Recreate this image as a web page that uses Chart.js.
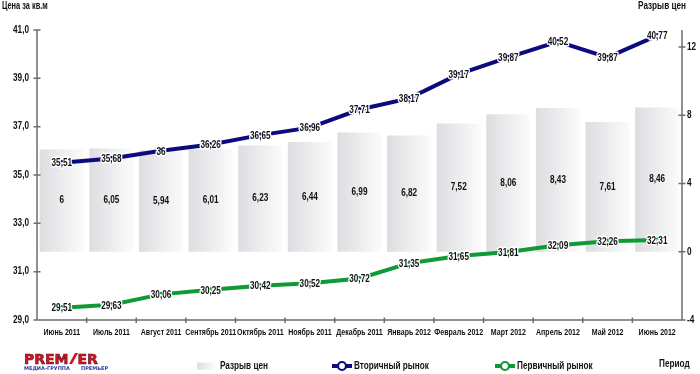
<!DOCTYPE html>
<html><head><meta charset="utf-8">
<script src="https://cdn.jsdelivr.net/npm/chart.js@4/dist/chart.umd.min.js"></script>
<style>html,body{margin:0;padding:0;background:#fff;}#wrap{position:relative;width:700px;height:374px;}</style>
</head><body><div id="wrap"><canvas id="c" width="700" height="374"></canvas></div>
<script>
const categories = ['Июнь 2011','Июль 2011','Август 2011','Сентябрь 2011','Октябрь 2011','Ноябрь 2011','Декабрь 2011','Январь 2012','Февраль 2012','Март 2012','Апрель 2012','Май 2012','Июнь 2012'];
const secondaryMarket = [35.51,35.68,36,36.26,36.65,36.96,37.71,38.17,39.17,39.87,40.52,39.87,40.77];
const primaryMarket = [29.51,29.63,30.06,30.25,30.42,30.52,30.72,31.35,31.65,31.81,32.09,32.26,32.31];
const priceGap = [6,6.05,5.94,6.01,6.23,6.44,6.99,6.82,7.52,8.06,8.43,7.61,8.46];
const leftTicks = [29,31,33,35,37,39,41];
const rightTicks = [-4,0,4,8,12];

const FAM = '"Liberation Sans",Arial,sans-serif';
const NAVY = '#0b0b80';
const GREEN = '#0f9a35';
const AXIS = '#6e6e6e';
const fmt = v => String(v).replace('.', ',');

function txt(ctx, s, x, y, o) {
  o = Object.assign({ size: 10, align: 'left', sx: 0.82, color: '#111', halo: false, font: FAM }, o || {});
  ctx.save();
  ctx.font = 'bold ' + o.size + 'px ' + o.font;
  ctx.textBaseline = 'middle';
  ctx.textAlign = o.align;
  ctx.translate(x, y);
  ctx.scale(o.sx, 1);
  if (o.halo) { ctx.lineWidth = 3; ctx.strokeStyle = '#fff'; ctx.lineJoin = 'round'; ctx.strokeText(s, 0, 0); }
  ctx.fillStyle = o.color;
  ctx.fillText(s, 0, 0);
  ctx.restore();
}

function barGradient(ctx, x0, x1) {
  if (!isFinite(x0) || !isFinite(x1) || x1 <= x0) return '#e8e8ea';
  const g = ctx.createLinearGradient(x0, 0, x1, 0);
  g.addColorStop(0, '#dcdde0');
  g.addColorStop(1, '#fbfbfb');
  return g;
}

const decor = {
  id: 'decor',
  afterDatasetsDraw(chart) {
    const ctx = chart.ctx;
    const bm = chart.getDatasetMeta(2);
    bm.data.forEach((el, i) => txt(ctx, fmt(priceGap[i]), el.x, (el.y + el.base) / 2, { align: 'center' }));
    [[0, secondaryMarket, NAVY], [1, primaryMarket, GREEN]].forEach(([di, vals, col]) => {
      const m = chart.getDatasetMeta(di);
      m.data.forEach((p, i) => {
        txt(ctx, fmt(vals[i]), p.x, p.y + 1, { align: 'center', halo: true });
        ctx.save();
        ctx.beginPath();
        ctx.arc(p.x, p.y - 1.5, 1.1, 0, Math.PI * 2);
        ctx.fillStyle = col;
        ctx.fill();
        ctx.restore();
      });
    });
  },
  afterDraw(chart) {
    const ctx = chart.ctx;
    const ca = chart.chartArea;
    const y = chart.scales.y, y1 = chart.scales.y1, x = chart.scales.x;
    ctx.save();
    ctx.strokeStyle = AXIS;
    ctx.lineWidth = 1.5;
    ctx.beginPath();
    ctx.moveTo(ca.left, ca.top); ctx.lineTo(ca.left, ca.bottom);
    leftTicks.forEach(v => { const py = y.getPixelForValue(v); ctx.moveTo(ca.left - 3.5, py); ctx.lineTo(ca.left + 3.5, py); });
    ctx.moveTo(ca.right, ca.top); ctx.lineTo(ca.right, ca.bottom);
    rightTicks.forEach(v => { const py = y1.getPixelForValue(v); ctx.moveTo(ca.right - 3.5, py); ctx.lineTo(ca.right + 3.5, py); });
    ctx.moveTo(ca.left, ca.bottom); ctx.lineTo(ca.right, ca.bottom);
    const w = (ca.right - ca.left) / categories.length;
    for (let i = 1; i < categories.length; i++) { const px = ca.left + i * w; ctx.moveTo(px, ca.bottom - 2.5); ctx.lineTo(px, ca.bottom + 3); }
    ctx.stroke();
    ctx.restore();

    leftTicks.forEach(v => txt(ctx, v.toFixed(1).replace('.', ','), ca.left - 8, y.getPixelForValue(v), { align: 'right' }));
    rightTicks.forEach(v => txt(ctx, String(v), ca.right + 5, y1.getPixelForValue(v), { align: 'left' }));
    categories.forEach((c, i) => txt(ctx, c, x.getPixelForValue(i), ca.bottom + 13, { align: 'center', size: 9, sx: 0.78 }));

    txt(ctx, 'Цена за кв.м', 2, 6, { sx: 0.74 });
    txt(ctx, 'Разрыв цен', 686, 6, { align: 'right' });
    txt(ctx, 'Период', 659, 364);

    const ly = 366;
    ctx.save();
    ctx.fillStyle = barGradient(ctx, 197, 215);
    ctx.fillRect(197, ly - 3.5, 18, 7);
    ctx.restore();
    txt(ctx, 'Разрыв цен', 220, ly);
    [[332, 352, NAVY, 'Вторичный рынок', 354], [495, 515, GREEN, 'Первичный рынок', 517]].forEach(([a, b, col, t, tx]) => {
      ctx.save();
      ctx.strokeStyle = col;
      ctx.lineWidth = 4;
      ctx.beginPath(); ctx.moveTo(a, ly); ctx.lineTo(b, ly); ctx.stroke();
      ctx.beginPath(); ctx.arc((a + b) / 2, ly, 4, 0, Math.PI * 2);
      ctx.fillStyle = '#fff'; ctx.fill();
      ctx.lineWidth = 2.2; ctx.stroke();
      ctx.restore();
      txt(ctx, t, tx, ly);
    });

    // logo
    ctx.save();
    ctx.textBaseline = 'alphabetic';
    ctx.textAlign = 'left';
    ctx.font = 'bold 14px "DejaVu Sans",sans-serif';
    ctx.fillStyle = '#d4141c';
    ctx.strokeStyle = '#5a1020';
    ctx.lineWidth = 0.6;
    ctx.fillText('PREM', 24, 364);
    ctx.strokeText('PREM', 24, 364);
    let lx = 24 + ctx.measureText('PREM').width;
    ctx.beginPath();
    ctx.moveTo(lx + 0.5, 364);
    ctx.lineTo(lx + 3.5, 364);
    ctx.lineTo(lx + 9.5, 353);
    ctx.lineTo(lx + 6.5, 353);
    ctx.closePath();
    ctx.fill();
    lx += 9;
    ctx.fillText('ER', lx, 364);
    ctx.strokeText('ER', lx, 364);
    ctx.font = 'bold 5px "DejaVu Sans",sans-serif';
    ctx.fillStyle = '#2b3b9c';
    ctx.fillText('МЕДИА-ГРУППА', 24, 370);
    ctx.fillText('ПРЕМЬЕР', 81, 370);
    ctx.restore();
  }
};

new Chart(document.getElementById('c'), {
  type: 'bar',
  data: {
    labels: categories,
    datasets: [
      { type: 'line', label: 'Вторичный рынок', data: secondaryMarket, yAxisID: 'y', borderColor: NAVY, backgroundColor: NAVY, borderWidth: 4, pointRadius: 0, tension: 0, order: 1 },
      { type: 'line', label: 'Первичный рынок', data: primaryMarket, yAxisID: 'y', borderColor: GREEN, backgroundColor: GREEN, borderWidth: 4, pointRadius: 0, tension: 0, order: 2 },
      { type: 'bar', label: 'Разрыв цен', data: priceGap, yAxisID: 'y1', barPercentage: 0.89, categoryPercentage: 1, order: 3,
        backgroundColor: (c) => {
          const ch = c.chart, xs = ch.scales && ch.scales.x;
          if (!xs || c.dataIndex == null || !xs.width) return '#e8e8ea';
          const cx = xs.getPixelForValue(c.dataIndex);
          const w = (xs.width / categories.length) * 0.89;
          return barGradient(ch.ctx, cx - w / 2, cx + w / 2);
        } }
    ]
  },
  options: {
    responsive: false,
    animation: false,
    devicePixelRatio: 1,
    layout: { padding: { top: 30, left: 0, right: 0, bottom: 0 } },
    plugins: { legend: { display: false }, tooltip: { enabled: false } },
    scales: {
      x: {
        grid: { display: false, drawTicks: false }, border: { display: false },
        ticks: { display: false },
        afterFit(s) { s.height = 54; }
      },
      y: {
        position: 'left', min: 29, max: 41,
        grid: { display: false, drawTicks: false }, border: { display: false },
        afterBuildTicks(s) { s.ticks = leftTicks.map(v => ({ value: v })); },
        ticks: { display: false },
        afterFit(s) { s.width = 37; }
      },
      y1: {
        position: 'right', min: -4, max: 13,
        grid: { display: false, drawTicks: false }, border: { display: false },
        afterBuildTicks(s) { s.ticks = rightTicks.map(v => ({ value: v })); },
        ticks: { display: false },
        afterFit(s) { s.width = 18; }
      }
    }
  },
  plugins: [decor]
});
</script></body></html>
